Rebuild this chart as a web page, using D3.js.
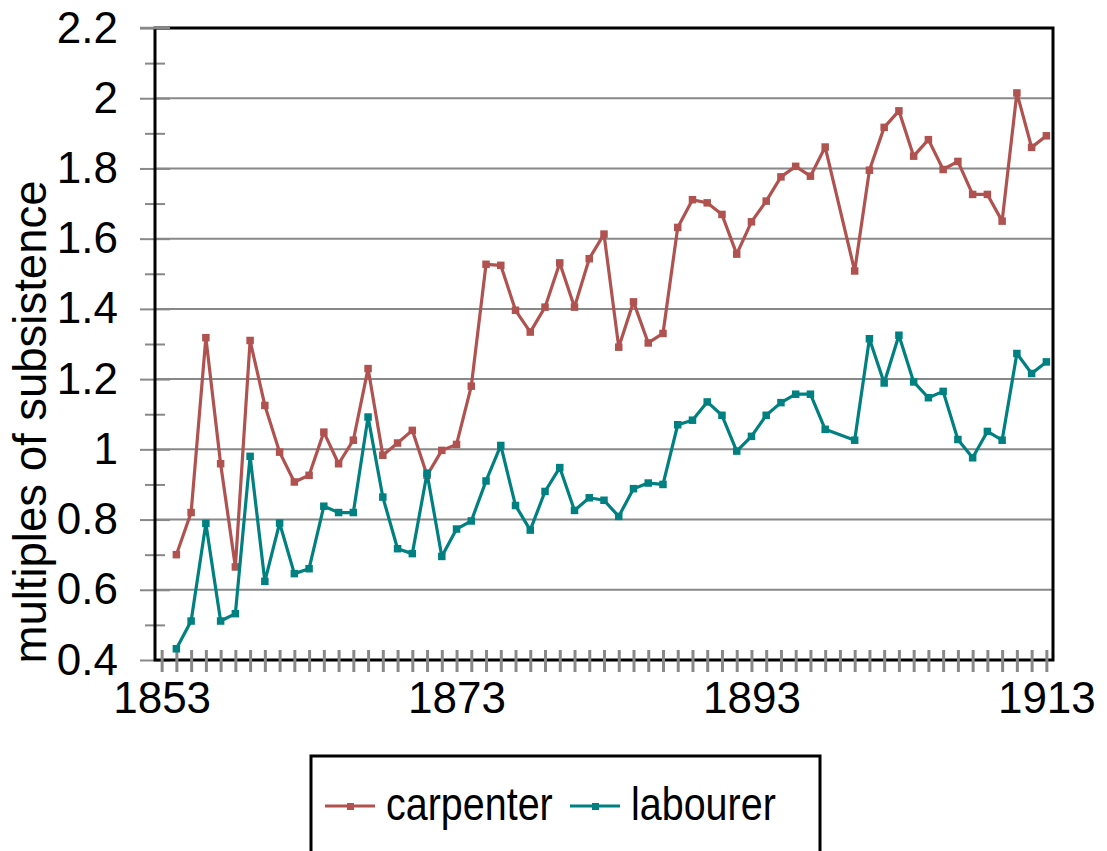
<!DOCTYPE html>
<html>
<head>
<meta charset="utf-8">
<script src="https://cdn.jsdelivr.net/npm/d3@7"></script>
<style>
  body { margin: 0; background: #fff; }
  svg { display: block; font-family: "Liberation Sans", Arial, sans-serif; }
</style>
</head>
<body>
<svg id="chart" width="1107" height="851"></svg>
<script>
//years with data (no value for 1899)
const years = [1854,1855,1856,1857,1858,1859,1860,1861,1862,1863,1864,1865,1866,1867,1868,1869,
  1870,1871,1872,1873,1874,1875,1876,1877,1878,1879,1880,1881,1882,1883,1884,1885,1886,1887,1888,1889,
  1890,1891,1892,1893,1894,1895,1896,1897,1898,1900,1901,1902,1903,1904,1905,1906,1907,1908,1909,
  1910,1911,1912,1913];
//carpenter wage as multiples of subsistence
const carpenter = [0.70,0.82,1.318,0.959,0.665,1.31,1.125,0.992,0.907,0.926,1.049,0.959,1.026,1.23,0.983,1.018,
  1.054,0.926,0.997,1.014,1.18,1.527,1.524,1.396,1.334,1.405,1.531,1.405,1.543,1.613,1.291,1.42,1.303,1.33,1.632,1.711,
  1.702,1.669,1.556,1.648,1.707,1.776,1.806,1.778,1.861,1.508,1.795,1.917,1.964,1.835,1.882,1.797,1.82,1.726,1.726,
  1.65,2.015,1.86,1.893];
//labourer wage as multiples of subsistence
const labourer = [0.432,0.511,0.789,0.511,0.532,0.98,0.624,0.79,0.646,0.66,0.838,0.82,0.82,1.092,0.864,0.717,
  0.703,0.932,0.695,0.773,0.796,0.91,1.011,0.84,0.77,0.88,0.948,0.826,0.862,0.855,0.809,0.888,0.904,0.90,1.07,1.083,
  1.135,1.097,0.995,1.037,1.097,1.133,1.157,1.157,1.057,1.026,1.315,1.189,1.325,1.192,1.147,1.165,1.028,0.976,1.051,
  1.026,1.273,1.216,1.249];
//axis ticks and labels
const yTicks = [0.4,0.6,0.8,1,1.2,1.4,1.6,1.8,2,2.2];
const yTickLabels = ["0.4","0.6","0.8","1","1.2","1.4","1.6","1.8","2","2.2"];
const yMinorTicks = [0.5,0.7,0.9,1.1,1.3,1.5,1.7,1.9,2.1];
const xLabelYears = [1853,1873,1893,1913];
const seriesNames = ["carpenter","labourer"];
const seriesColors = ["#b0524f","#008080"];

const svg = d3.select("#chart");
const plotLeft = 155, plotRight = 1053, plotTop = 28, plotBottom = 660;

const x = d3.scaleLinear().domain([1852.55, 1913.45]).range([plotLeft, plotRight]);
const y = d3.scaleLinear().domain([0.4, 2.2]).range([plotBottom, plotTop]);

//horizontal grid lines
svg.append("g")
  .selectAll("line")
  .data(yTicks.filter(v => v > 0.4 && v < 2.2))
  .join("line")
  .attr("x1", plotLeft)
  .attr("x2", plotRight)
  .attr("y1", d => y(d))
  .attr("y2", d => y(d))
  .style("stroke", "#888")
  .style("stroke-width", 2);

//minor ticks on the value axis
svg.append("g")
  .attr("transform", "translate(165,0)")
  .call(d3.axisLeft(y).tickValues(yMinorTicks).tickSize(20).tickFormat(""))
  .call(g => g.select(".domain").remove())
  .call(g => g.selectAll(".tick line").style("stroke", "#888").style("stroke-width", 2));

//major ticks with labels
svg.append("g")
  .attr("transform", "translate(170,0)")
  .call(d3.axisLeft(y).tickValues(yTicks).tickSize(30).tickPadding(22)
    .tickFormat((d, i) => yTickLabels[i]))
  .call(g => g.select(".domain").remove())
  .call(g => g.selectAll(".tick line").style("stroke", "#888").style("stroke-width", 2))
  .call(g => g.selectAll(".tick text")
    .style("font-size", "44px")
    .style("fill", "#000")
    .style("font-family", "'Liberation Sans', Arial, sans-serif"));

//frame and axis lines
svg.append("path")
  .attr("d", "M" + plotLeft + "," + plotTop + "H" + plotRight + "V" + plotBottom + "H" + plotLeft + "Z")
  .style("fill", "none")
  .style("stroke", "#000")
  .style("stroke-width", 3);

//cover top frame near axis with the 2.2 tick
svg.append("line")
  .attr("x1", 140).attr("x2", 170)
  .attr("y1", y(2.2)).attr("y2", y(2.2))
  .style("stroke", "#888")
  .style("stroke-width", 2.5);

//year ticks on category axis
const xYears = d3.range(1853, 1914);
svg.append("g")
  .attr("transform", "translate(0,650)")
  .call(d3.axisBottom(x).tickValues(xYears).tickSize(22).tickPadding(10)
    .tickFormat(d => xLabelYears.includes(d) ? String(d) : ""))
  .call(g => g.select(".domain").remove())
  .call(g => g.selectAll(".tick line").style("stroke", "#888").style("stroke-width", 3))
  .call(g => g.selectAll(".tick text")
    .style("font-size", "44px")
    .style("fill", "#000")
    .style("font-family", "'Liberation Sans', Arial, sans-serif"));

//value axis title
svg.append("text")
  .attr("transform", "translate(46,422)rotate(-90)")
  .attr("text-anchor", "middle")
  .style("font-size", "45.5px")
  .text("multiples of subsistence");

//draw series lines and markers
const seriesValues = [carpenter, labourer];
const line = d3.line().x(d => x(d[0])).y(d => y(d[1]));

seriesValues.forEach(function(values, s){
  const pts = years.map((yr, i) => [yr, values[i]]);
  svg.append("path")
    .datum(pts)
    .attr("d", line)
    .style("fill", "none")
    .style("stroke", seriesColors[s])
    .style("stroke-width", 3.2)
    .style("stroke-linejoin", "round");
  svg.append("g")
    .selectAll("rect")
    .data(pts)
    .join("rect")
    .attr("x", d => x(d[0]) - 3.75)
    .attr("y", d => y(d[1]) - 3.75)
    .attr("width", 7.5)
    .attr("height", 7.5)
    .style("fill", seriesColors[s]);
});

//legend box
const legend = svg.append("g");
legend.append("rect")
  .attr("x", 311)
  .attr("y", 756)
  .attr("width", 509)
  .attr("height", 120)
  .style("fill", "#fff")
  .style("stroke", "#000")
  .style("stroke-width", 3);

const legendX = [325, 570];
seriesNames.forEach(function(name, s){
  const lx = legendX[s];
  legend.append("line")
    .attr("x1", lx).attr("x2", lx + 50)
    .attr("y1", 806).attr("y2", 806)
    .style("stroke", seriesColors[s])
    .style("stroke-width", 3);
  legend.append("rect")
    .attr("x", lx + 22).attr("y", 803)
    .attr("width", 7).attr("height", 7)
    .style("fill", seriesColors[s]);
  //legend text is narrow and tall in the original
  legend.append("text")
    .attr("transform", "translate(" + (lx + 61) + ",820)scale(0.84,1)")
    .style("font-size", "47px")
    .text(name);
});
</script>
</body>
</html>
